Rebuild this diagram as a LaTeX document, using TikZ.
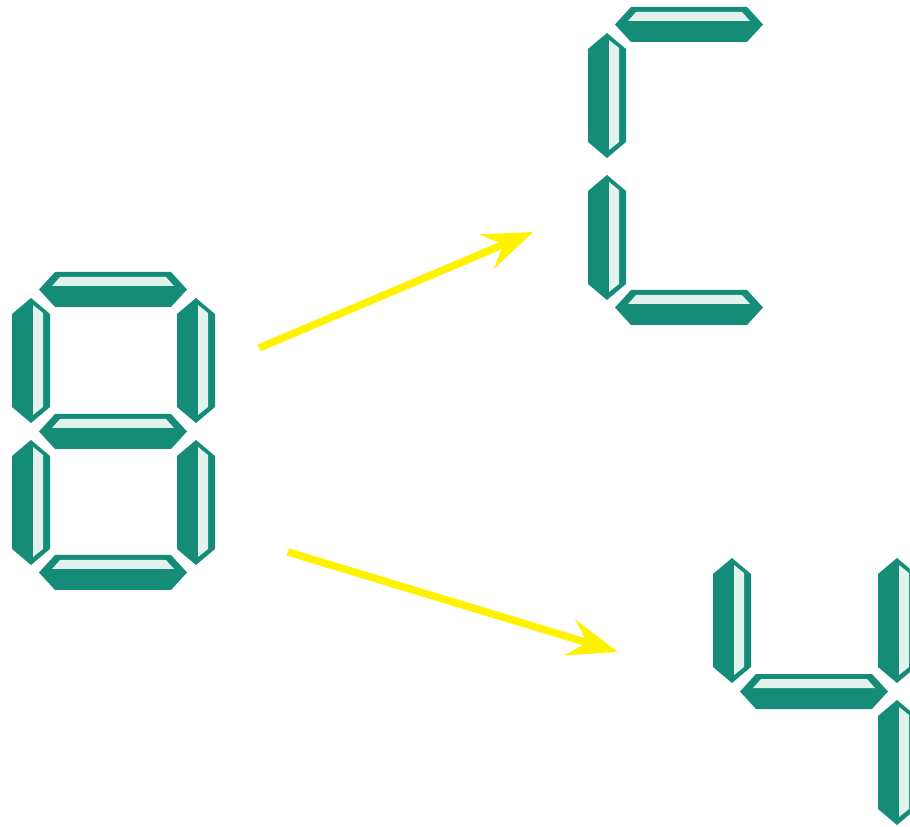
\documentclass[tikz,border=0pt]{standalone}
\usepackage{tikz}
\usetikzlibrary{arrows.meta}
\definecolor{segdark}{RGB}{20,140,120}
\definecolor{seglight}{RGB}{226,242,237}
\def\hseg(#1,#2){\begin{scope}[shift={(#1,#2)}]
	\fill[segdark] (-74,0) -- (-58,-17.5) -- (58,-17.5) -- (74,0) -- (58,17.5) -- (-58,17.5) -- cycle;
	\fill[seglight] (-61,-3.5) -- (-53,-12.5) -- (53,-12.5) -- (61,-3.5) -- cycle;
\end{scope}}
\def\vseg(#1,#2){\begin{scope}[shift={(#1,#2)}]
	\fill[segdark] (0,-62.5) -- (19,-46.5) -- (19,46.5) -- (0,62.5) -- (-19,46.5) -- (-19,-46.5) -- cycle;
	\fill[seglight] (2,-55.5) -- (12,-47.5) -- (12,46.5) -- (2,54.5) -- cycle;
\end{scope}}

\begin{document}
\begin{tikzpicture}[x=0.02cm, y=-0.02cm]
		%%%%% START %%%%%
		\useasboundingbox (0,0) rectangle (910,827);
		\clip (0,0) rectangle (910,827);
		
		% eight
		\hseg(113,289.5);
		\vseg(31,360.5);
		\vseg(196,360.5);
		\hseg(113,431.5);
		\vseg(31,502.5);
		\vseg(196,502.5);
		\hseg(113,572.5);
		
		% C
		\hseg(689,24.5);
		\vseg(607,95.5);
		\vseg(607,237.5);
		\hseg(689,307.5);
		
		% four
		\vseg(732,620.5);
		\vseg(897,620.5);
		\hseg(814,691.5);
		\vseg(897,762.5);
		
		\coordinate (eightup) at (259,348);
		\coordinate (cdigit) at (533,232);
		\coordinate (eightdown) at (288,552);
		\coordinate (fourdigit) at (618,652);
		
		\draw[line width=0.15cm, color=yellow, -{Stealth[length=1cm, width=0.74cm, inset=0.36cm]}] (eightup) -- (cdigit);
		\draw[line width=0.15cm, color=yellow, -{Stealth[length=1cm, width=0.74cm, inset=0.36cm]}] (eightdown) -- (fourdigit);
		
		%%%%% END %%%%%
	\end{tikzpicture}
\end{document}
